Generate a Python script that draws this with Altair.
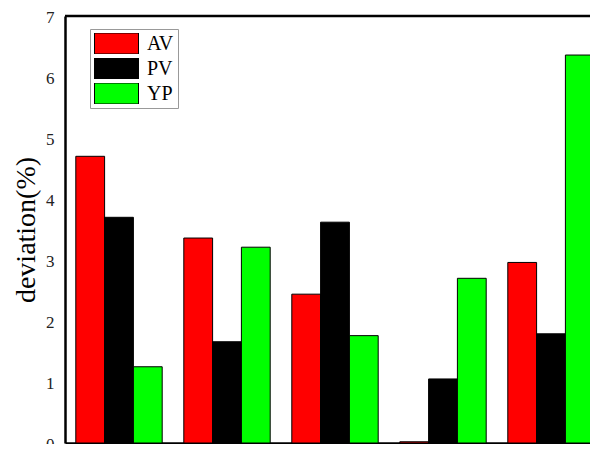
import altair as alt
import pandas as pd

groups = ["G1", "G2", "G3", "G4", "G5"]
series = ["AV", "PV", "YP"]
av = [4.70, 3.36, 2.44, 0.02, 2.96]
pv = [3.70, 1.66, 3.62, 1.05, 1.79]
yp = [1.25, 3.21, 1.76, 2.70, 6.36]
colors = ["#FF0000", "#000000", "#00FF00"]
y_top = [7]

rows = []
for i, g in enumerate(groups):
    for s, vals in zip(series, [av, pv, yp]):
        rows.append({"group": g, "series": s, "value": vals[i]})
df = pd.DataFrame(rows)

font = "Liberation Serif"

bars = alt.Chart(df).mark_bar(stroke="black", strokeWidth=1).encode(
    x=alt.X("group:N", sort=groups,
            scale=alt.Scale(paddingInner=0.2, paddingOuter=0.1),
            axis=alt.Axis(title=None, labels=False, ticks=False, domain=True,
                          domainColor="black", domainWidth=2.5)),
    xOffset=alt.XOffset("series:N", sort=series, scale=alt.Scale(paddingInner=0, paddingOuter=0)),
    y=alt.Y("value:Q", scale=alt.Scale(domain=[0, 7], nice=False),
            axis=alt.Axis(title="deviation(%)", values=[0, 1, 2, 3, 4, 5, 6, 7],
                          format="d", grid=False, ticks=False, domain=True,
                          domainColor="black", domainWidth=2.5,
                          labelFont=font, labelFontSize=17, labelColor="#222",
                          labelPadding=11, labelOffset=1.5,
                          titleFont=font, titleFontSize=28,
                          titleFontWeight="normal", titleColor="black", titlePadding=5)),
    color=alt.Color("series:N", sort=series,
                    scale=alt.Scale(domain=series, range=colors),
                    legend=alt.Legend(title=None, orient="none", legendX=25, legendY=13,
                                      symbolType="M-1,-0.477H1V0.477H-1Z", symbolSize=1936,
                                      symbolStrokeColor="black", symbolStrokeWidth=1,
                                      symbolOpacity=1, clipHeight=21,
                                      labelFont=font, labelFontSize=20, labelColor="black",
                                      rowPadding=4, padding=4, strokeColor="#999",
                                      fillColor="white", labelOffset=8)),
)

top = alt.Chart(pd.DataFrame({"y": y_top})).mark_rule(color="black", strokeWidth=2.5).encode(
    y=alt.Y("y:Q")
)

chart = alt.layer(bars, top).properties(
    width=540, height=427,
    autosize=alt.AutoSizeParams(type="none"),
    padding={"left": 57, "top": 8, "right": -15, "bottom": 1},
).configure_view(strokeWidth=0)

chart.save("out.html", embed_options={"renderer": "svg", "actions": False})
